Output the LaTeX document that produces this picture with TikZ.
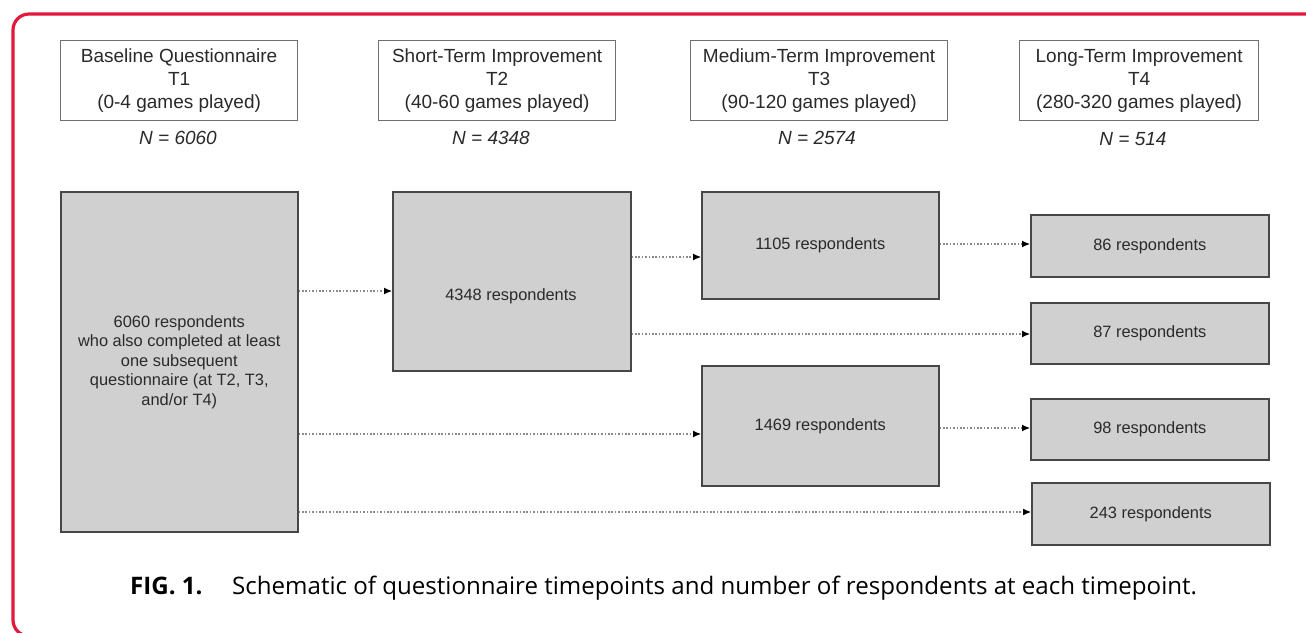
\documentclass[tikz,border=0pt]{standalone}
\usepackage{fontspec}
\setmainfont{Liberation Sans}
\newfontfamily\capfont{Open Sans}
\usetikzlibrary{arrows.meta}
\definecolor{framered}{HTML}{E2183D}
\definecolor{boxfill}{HTML}{D0D0D0}
\definecolor{boxline}{HTML}{474747}
\definecolor{hdrline}{HTML}{707070}
\definecolor{txt}{HTML}{2A2A2A}
\definecolor{dotcol}{HTML}{8A8A8A}
\begin{document}
\begin{tikzpicture}[x=1pt,y=-1pt,
  hdr/.style={draw=hdrline, line width=1.2pt, fill=white, minimum height=80pt, anchor=north west, align=center, inner sep=0pt, font=\fontsize{19}{23}\selectfont, text=txt},
  nlab/.style={font=\fontsize{19}{23}\selectfont\itshape, text=txt, inner sep=0pt},
  grp/.style={draw=boxline, line width=1.6pt, fill=boxfill, anchor=north west, align=center, inner sep=0pt, font=\fontsize{16.4}{19.5}\selectfont, text=txt},
  gtxt/.style={align=center, inner sep=0pt, font=\fontsize{16.4}{19.5}\selectfont, text=txt},
  conn/.style={draw=dotcol, line width=1.1pt, dash pattern=on 1.6pt off 1.8pt, -{Latex[length=8pt,width=7pt,color=black]}}
]
\useasboundingbox (0,0) rectangle (1306,632);
\clip (0,0) rectangle (1306,632);
\fill[white] (0,0) rectangle (1306,632);
\draw[framered, line width=3.2pt, rounded corners=16pt] (13,14) rectangle (1340,636);

% headers
\node[hdr, minimum width=237pt] (h1) at (60,40) {Baseline Questionnaire\\T1\\(0-4 games played)};
\node[hdr, minimum width=237pt] (h2) at (378,40) {Short-Term Improvement\\T2\\(40-60 games played)};
\node[hdr, minimum width=257pt] (h3) at (690,40) {Medium-Term Improvement\\T3\\(90-120 games played)};
\node[hdr, minimum width=239pt] (h4) at (1019,40) {Long-Term Improvement\\T4\\(280-320 games played)};

\node[nlab] (n1) at (178,138) {N = 6060};
\node[nlab] (n2) at (491,138) {N = 4348};
\node[nlab] (n3) at (817,138) {N = 2574};
\node[nlab] (n4) at (1133,139) {N = 514};

% boxes
\node[grp, minimum width=237pt, minimum height=340pt] (A) at (60,191) {6060 respondents\\who also completed at least\\one subsequent\\questionnaire (at T2, T3,\\and/or T4)};
\node[grp, minimum width=238pt, minimum height=179pt] (B) at (392,191) {};
\node[gtxt] (Bt) at (511,296) {4348 respondents};
\node[grp, minimum width=237pt, minimum height=107pt] (C) at (701,191) {1105 respondents};
\node[grp, minimum width=237pt, minimum height=120pt] (D) at (701,365) {1469 respondents};
\node[grp, minimum width=238pt, minimum height=62pt] (E) at (1030,214) {86 respondents};
\node[grp, minimum width=238pt, minimum height=61pt] (F) at (1030,302) {87 respondents};
\node[grp, minimum width=238pt, minimum height=61pt] (G) at (1030,398) {98 respondents};
\node[grp, minimum width=238pt, minimum height=62pt] (H) at (1031,482) {243 respondents};

% connectors
\draw[conn] (A.east |- 0,291) -- (B.west |- 0,291);
\draw[conn] (A.east |- 0,434) -- (D.west |- 0,434);
\draw[conn] (A.east |- 0,512) -- (H.west |- 0,512);
\draw[conn] (B.east |- 0,257) -- (C.west |- 0,257);
\draw[conn] (B.east |- 0,334) -- (F.west |- 0,334);
\draw[conn] (C.east |- 0,244) -- (E.west |- 0,244);
\draw[conn] (D.east |- 0,428) -- (G.west |- 0,428);

% caption
\node[anchor=base west, inner sep=0pt, font=\capfont\fontsize{24.1}{28}\selectfont\bfseries] (figlab) at (130,594) {FIG. 1.};
\node[anchor=base west, inner sep=0pt, font=\capfont\fontsize{24.1}{28}\selectfont] (captxt) at (232,594) {Schematic of questionnaire timepoints and number of respondents at each timepoint.};
\end{tikzpicture}
\end{document}
